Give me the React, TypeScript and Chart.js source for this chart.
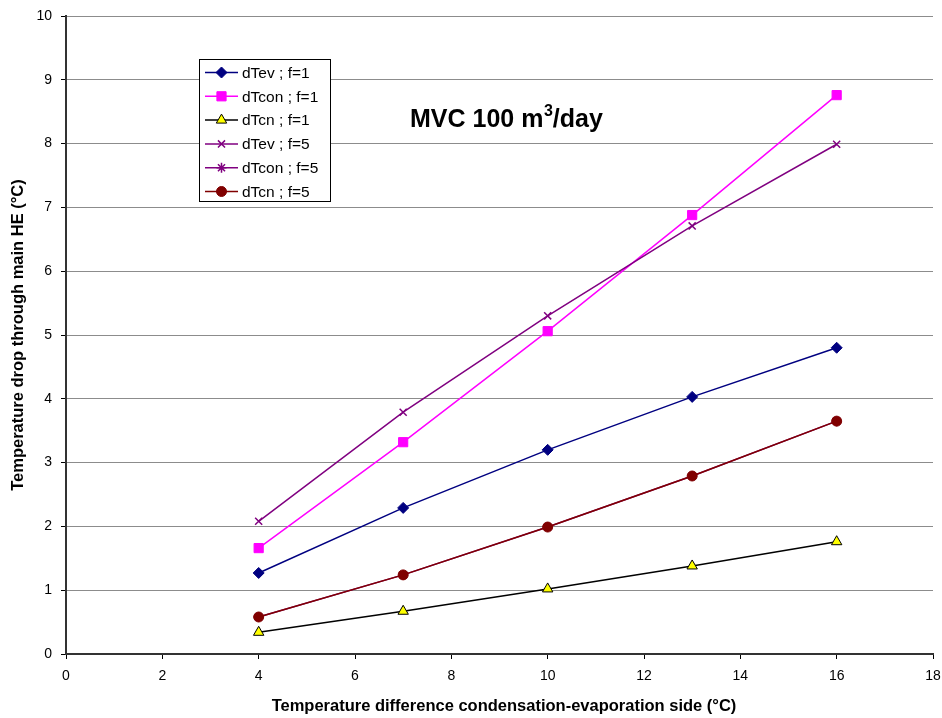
import React, { useEffect, useRef } from "react";
import { Chart, registerables } from "chart.js";
import { drawPoint } from "chart.js/helpers";

Chart.register(...registerables);

const xValues = [4, 7, 10, 13, 16];
const dTevF1 = [1.27, 2.29, 3.2, 4.03, 4.8];
const dTconF1 = [1.66, 3.32, 5.06, 6.88, 8.76];
const dTcnF1 = [0.34, 0.67, 1.02, 1.38, 1.76];
const dTevF5 = [2.08, 3.79, 5.3, 6.71, 7.99];
const dTconF5 = [0.58, 1.24, 1.99, 2.79, 3.65];
const dTcnF5 = [0.58, 1.24, 1.99, 2.79, 3.65];

const seriesLabels = ["dTev ; f=1", "dTcon ; f=1", "dTcn ; f=1", "dTev ; f=5", "dTcon ; f=5", "dTcn ; f=5"];
const seriesValues = [dTevF1, dTconF1, dTcnF1, dTevF5, dTconF5, dTcnF5];
const seriesColors = ["#000080", "#FF00FF", "#000000", "#800080", "#800080", "#800000"];
const seriesFill = ["#000080", "#FF00FF", "#FFFF00", "#800080", "#800080", "#800000"];
const seriesStyles = ["rectRot", "rect", "triangle", "crossRot", "star", "circle"];
const seriesRadius = [5.5, 6.5, 6, 5, 5, 5];
const seriesBorder = [1, 1, 1, 1.5, 1.5, 1];

const titleMain = "MVC 100 m";
const titleSup = "3";
const titleEnd = "/day";
const xTitle = "Temperature difference condensation-evaporation side (°C)";
const yTitle = "Temperature drop through main HE (°C)";

const FONT = '"Liberation Sans", Arial, sans-serif';

const overlayPlugin = {
  id: "overlay",
  afterDraw(chart: any) {
    const ctx = chart.ctx;
    const area = chart.chartArea;
    ctx.save();
    ctx.fillStyle = "#000";

    // main title
    ctx.textBaseline = "alphabetic";
    ctx.textAlign = "left";
    ctx.font = `bold 25px ${FONT}`;
    let tx = 410;
    const ty = 127;
    ctx.fillText(titleMain, tx, ty);
    tx += ctx.measureText(titleMain).width + 0.5;
    ctx.font = `bold 16px ${FONT}`;
    ctx.fillText(titleSup, tx, ty - 11);
    tx += ctx.measureText(titleSup).width;
    ctx.font = `bold 25px ${FONT}`;
    ctx.fillText(titleEnd, tx, ty);

    // x axis title
    ctx.save();
    ctx.font = `bold 16.5px ${FONT}`;
    ctx.textAlign = "center";
    ctx.textBaseline = "middle";
    ctx.fillText(xTitle, 504, 706);
    ctx.restore();

    // y axis title
    ctx.save();
    ctx.font = `bold 16.5px ${FONT}`;
    ctx.textAlign = "center";
    ctx.textBaseline = "middle";
    ctx.translate(18, (area.top + area.bottom) / 2);
    ctx.rotate(-Math.PI / 2);
    ctx.fillText(yTitle, 0, 0);
    ctx.restore();

    // legend
    const bx = 199.5, by = 59.5, bw = 131, bh = 142;
    ctx.fillStyle = "#fff";
    ctx.fillRect(bx, by, bw, bh);
    ctx.strokeStyle = "#000";
    ctx.lineWidth = 1;
    ctx.strokeRect(bx, by, bw, bh);
    ctx.font = `15.5px ${FONT}`;
    ctx.textBaseline = "middle";
    ctx.textAlign = "left";
    for (let i = 0; i < seriesLabels.length; i++) {
      const cy = 72.5 + i * 23.8;
      ctx.strokeStyle = seriesColors[i];
      ctx.lineWidth = 1.5;
      ctx.beginPath();
      ctx.moveTo(205, cy);
      ctx.lineTo(238, cy);
      ctx.stroke();
      ctx.fillStyle = seriesFill[i];
      ctx.strokeStyle = seriesColors[i];
      ctx.lineWidth = seriesBorder[i];
      drawPoint(ctx, { pointStyle: seriesStyles[i], radius: seriesRadius[i], rotation: 0, borderWidth: seriesBorder[i] } as any, 221.5, cy);
      ctx.fillStyle = "#000";
      ctx.fillText(seriesLabels[i], 242, cy + 1);
    }
    ctx.restore();
  },
};

export default function App() {
  const ref = useRef<HTMLCanvasElement>(null);
  useEffect(() => {
    document.body.style.margin = "0";
    const datasets = seriesLabels.map((label, i) => ({
      label,
      data: xValues.map((x, j) => ({ x, y: seriesValues[i][j] })),
      borderColor: seriesColors[i],
      backgroundColor: seriesFill[i],
      pointBorderColor: seriesColors[i],
      pointBackgroundColor: seriesFill[i],
      pointStyle: seriesStyles[i],
      pointRadius: seriesRadius[i],
      pointBorderWidth: seriesBorder[i],
      borderWidth: 1.5,
      tension: 0,
      fill: false,
      order: seriesLabels.length - i,
    }));
    const chart = new Chart(ref.current!, {
      type: "line",
      data: { datasets },
      plugins: [overlayPlugin],
      options: {
        animation: false,
        responsive: false,
        maintainAspectRatio: false,
        layout: { padding: { top: 16, right: 9, left: 0, bottom: 0 } },
        plugins: { legend: { display: false }, tooltip: { enabled: false } },
        scales: {
          x: {
            type: "linear",
            min: 0,
            max: 18,
            ticks: { stepSize: 2, color: "#000", font: { family: FONT, size: 14 }, padding: 9, maxRotation: 0 },
            grid: { drawOnChartArea: false, drawTicks: true, tickLength: 5, tickColor: "#000" },
            border: { display: true, color: "#333", width: 2 },
            title: { display: false },
            afterFit(scale: any) {
              scale.height = 64;
              scale.paddingLeft = 0;
              scale.paddingRight = 0;
            },
          },
          y: {
            min: 0,
            max: 10,
            ticks: { stepSize: 1, color: "#000", font: { family: FONT, size: 14 }, padding: 9 },
            grid: { color: "#8c8c8c", lineWidth: 1, drawTicks: true, tickLength: 5, tickColor: "#000" },
            border: { display: true, color: "#333", width: 2 },
            title: { display: false },
            afterFit(scale: any) {
              scale.width = 66;
              scale.paddingTop = 0;
              scale.paddingBottom = 0;
            },
          },
        },
      },
    } as any);
    return () => chart.destroy();
  }, []);
  return (
    <div style={{ position: "absolute", left: 0, top: 0, width: 942, height: 718, background: "#fff" }}>
      <canvas ref={ref} width={942} height={718} style={{ width: 942, height: 718 }} />
    </div>
  );
}
